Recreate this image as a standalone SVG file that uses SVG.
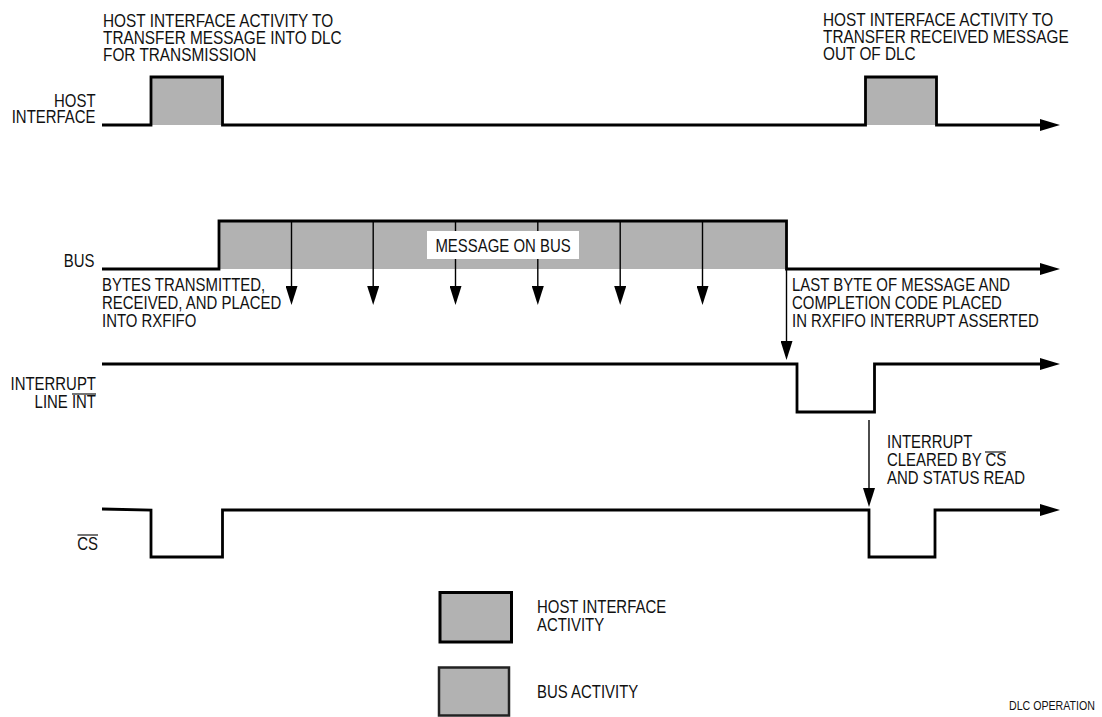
<svg xmlns="http://www.w3.org/2000/svg" width="1102" height="717" viewBox="0 0 1102 717">
<style>
  .sig{fill:none;stroke:#000;stroke-width:2.8;stroke-linejoin:miter;stroke-linecap:butt}
  .thin{fill:none;stroke:#000;stroke-width:1.4}
  .act{fill:#b2b2b2;stroke:none}
  .t{font-family:"Liberation Sans",Arial,sans-serif;font-size:18px;fill:#111}
  .tb{font-size:18.5px}
  .ts{font-size:12.5px}
  .ov{stroke:#000;stroke-width:1.1}
</style>
<defs>
  <marker id="ah" markerUnits="userSpaceOnUse" markerWidth="20" markerHeight="12" refX="8" refY="6" orient="auto">
    <path d="M0,0 L20,6 L0,12 z" fill="#000"/>
  </marker>
  <marker id="ahs" markerUnits="userSpaceOnUse" markerWidth="19" markerHeight="12" refX="15" refY="6" orient="auto">
    <path d="M0,0 L19,6 L0,12 z" fill="#000"/>
  </marker>
</defs>
<rect width="1102" height="717" fill="#fff"/>

<g id="host-interface">
  <rect class="act" x="151" y="77" width="71.5" height="48"/>
  <rect class="act" x="865.5" y="77" width="71" height="48"/>
  <path class="sig" d="M102,125 H151 V77 H222.5 V125 H865.5 V77 H936.5 V125 H1048" marker-end="url(#ah)"/>
  <text class="t" text-anchor="end" transform="matrix(0.83,0,0,1,95.5,107)">HOST</text>
  <text class="t" text-anchor="end" transform="matrix(0.83,0,0,1,95.5,123)">INTERFACE</text>
  <text class="t tb" transform="matrix(0.83,0,0,1,103,27)">HOST INTERFACE ACTIVITY TO</text>
  <text class="t tb" transform="matrix(0.83,0,0,1,103,44)">TRANSFER MESSAGE INTO DLC</text>
  <text class="t tb" transform="matrix(0.83,0,0,1,103,61)">FOR TRANSMISSION</text>
  <text class="t tb" transform="matrix(0.83,0,0,1,823,26)">HOST INTERFACE ACTIVITY TO</text>
  <text class="t tb" transform="matrix(0.83,0,0,1,823,43)">TRANSFER RECEIVED MESSAGE</text>
  <text class="t tb" transform="matrix(0.83,0,0,1,823,60)">OUT OF DLC</text>
</g>

<g id="bus">
  <rect class="act" x="219" y="221" width="567.5" height="48"/>
  <path class="sig" d="M102,269 H219 V221 H786.5 V269 H1048" marker-end="url(#ah)"/>
  <text class="t" text-anchor="end" transform="matrix(0.83,0,0,1,94.5,267)">BUS</text>
  <text class="t" transform="matrix(0.83,0,0,1,102,291)">BYTES TRANSMITTED,</text>
  <text class="t" transform="matrix(0.83,0,0,1,102,309)">RECEIVED, AND PLACED</text>
  <text class="t" transform="matrix(0.83,0,0,1,102,327)">INTO RXFIFO</text>
  <text class="t" transform="matrix(0.83,0,0,1,792,291)">LAST BYTE OF MESSAGE AND</text>
  <text class="t" transform="matrix(0.83,0,0,1,792,309)">COMPLETION CODE PLACED</text>
  <text class="t" transform="matrix(0.83,0,0,1,792,327)">IN RXFIFO INTERRUPT ASSERTED</text>
</g>

<g id="connectors">
  <line class="thin" x1="291.5" y1="221" x2="291.5" y2="301" marker-end="url(#ahs)"/>
  <line class="thin" x1="373.2" y1="221" x2="373.2" y2="301" marker-end="url(#ahs)"/>
  <line class="thin" x1="455.5" y1="221" x2="455.5" y2="301" marker-end="url(#ahs)"/>
  <line class="thin" x1="537.8" y1="221" x2="537.8" y2="301" marker-end="url(#ahs)"/>
  <line class="thin" x1="620.2" y1="221" x2="620.2" y2="301" marker-end="url(#ahs)"/>
  <line class="thin" x1="702.5" y1="221" x2="702.5" y2="301" marker-end="url(#ahs)"/>
  <line class="thin" x1="786.5" y1="269" x2="786.5" y2="356" marker-end="url(#ahs)"/>
  <line class="thin" x1="869" y1="420" x2="869" y2="503" marker-end="url(#ahs)"/>
</g>

<g id="message-label">
  <rect x="427" y="231" width="152" height="28" fill="#fff"/>
  <text class="t" text-anchor="middle" transform="matrix(0.83,0,0,1,503,252)">MESSAGE ON BUS</text>
</g>

<g id="interrupt">
  <path class="sig" d="M102,364 H797 V412 H874.5 V364 H1048" marker-end="url(#ah)"/>
  <text class="t" text-anchor="end" transform="matrix(0.83,0,0,1,96,390)">INTERRUPT</text>
  <text class="t" text-anchor="end" transform="matrix(0.83,0,0,1,96,408)">LINE INT</text>
  <line class="ov" x1="72" y1="394" x2="96" y2="394"/>
  <text class="t" transform="matrix(0.83,0,0,1,887,448)">INTERRUPT</text>
  <text class="t" transform="matrix(0.83,0,0,1,887,466)">CLEARED BY CS</text>
  <text class="t" transform="matrix(0.83,0,0,1,887,484)">AND STATUS READ</text>
  <line class="ov" x1="985" y1="452" x2="1006" y2="452"/>
</g>

<g id="cs">
  <path class="sig" d="M102,509 L151,510 V557 H222.5 V510 H869 V557 H935 V510 H1048" marker-end="url(#ah)"/>
  <text class="t" text-anchor="end" transform="matrix(0.83,0,0,1,98,550)">CS</text>
  <line class="ov" x1="77.5" y1="535" x2="98" y2="535"/>
</g>

<g id="legend">
  <rect x="440" y="592.5" width="71.5" height="49.5" fill="#b2b2b2" stroke="#000" stroke-width="3"/>
  <text class="t" transform="matrix(0.83,0,0,1,537,613)">HOST INTERFACE</text>
  <text class="t" transform="matrix(0.83,0,0,1,537,631)">ACTIVITY</text>
  <rect x="439" y="667.5" width="70" height="48" fill="#b2b2b2" stroke="#222" stroke-width="2.5"/>
  <text class="t" transform="matrix(0.83,0,0,1,537,698)">BUS ACTIVITY</text>
</g>

<text class="t ts" transform="matrix(0.85,0,0,1,1009,710)">DLC OPERATION</text>
</svg>
